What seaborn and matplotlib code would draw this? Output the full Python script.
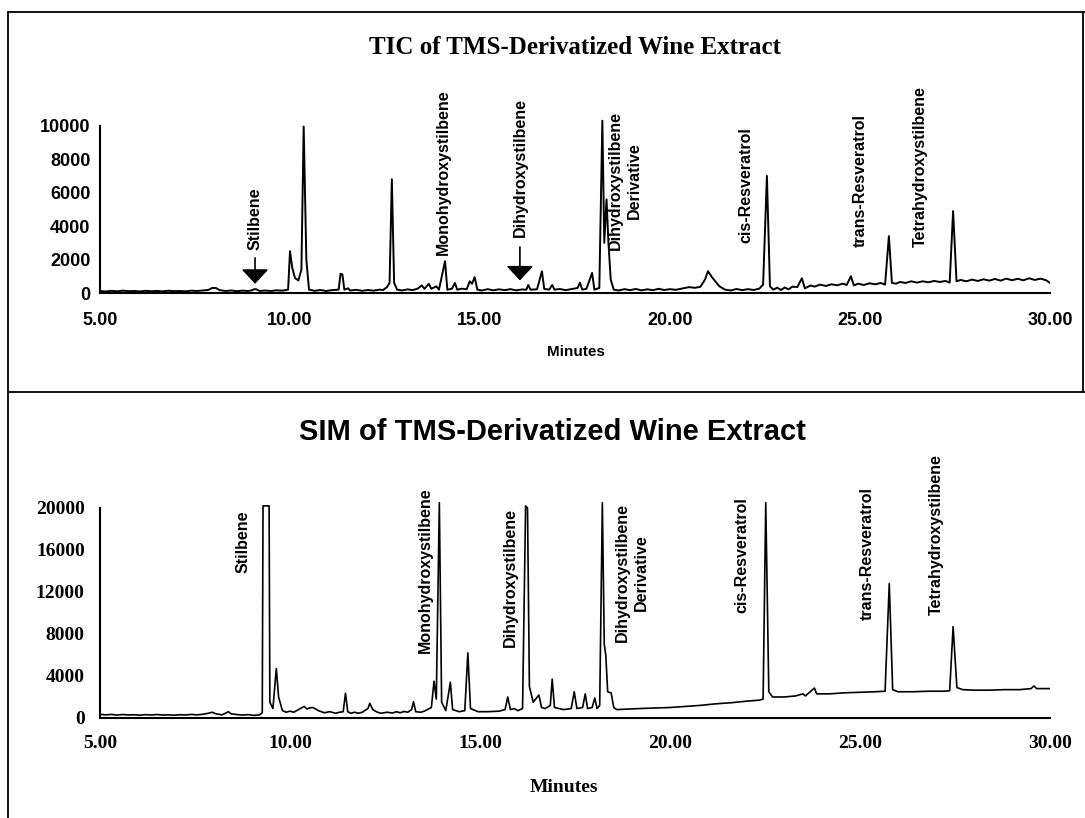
import matplotlib

matplotlib.use("Agg")
import matplotlib.pyplot as plt
import pandas as pd
import seaborn as sns
from matplotlib.lines import Line2D
from matplotlib.ticker import FormatStrFormatter, MultipleLocator

# --- TIC trace (minutes, counts) ---
TIC_MINUTES = [
    5.00, 5.15, 5.30, 5.45, 5.60, 5.75, 5.90, 6.05, 6.20, 6.35, 6.50, 6.65, 6.80, 6.95, 7.10, 7.25, 7.40, 7.55, 7.70,
    7.85, 7.95, 8.05, 8.15, 8.30, 8.45, 8.60, 8.75, 8.90, 9.00, 9.06, 9.12, 9.20, 9.35, 9.50, 9.65, 9.80, 9.95,
    10.00, 10.06, 10.13, 10.22, 10.30, 10.36, 10.43, 10.50,
    10.65, 10.80, 10.95, 11.10, 11.28, 11.33, 11.38, 11.43, 11.53, 11.58, 11.75, 11.90, 12.05, 12.20, 12.35, 12.45, 12.55, 12.62, 12.68, 12.74, 12.82,
    12.95, 13.10, 13.22, 13.35, 13.47, 13.54, 13.65, 13.72, 13.85, 13.92, 14.08, 14.14, 14.26, 14.34, 14.40, 14.52, 14.65, 14.73, 14.79, 14.86, 14.93,
    15.05, 15.20, 15.35, 15.50, 15.65, 15.80, 15.95, 16.10, 16.22, 16.27, 16.33, 16.50, 16.63, 16.69, 16.82, 16.90, 16.96, 17.10, 17.25, 17.40, 17.57, 17.63, 17.69, 17.80, 17.95, 18.01, 18.14,
    18.22, 18.27, 18.33, 18.38, 18.44, 18.52,
    18.65, 18.80, 18.95, 19.10, 19.25, 19.40, 19.55, 19.70, 19.85, 20.00, 20.15, 20.30, 20.50, 20.65, 20.80,
    20.92, 21.00, 21.12, 21.30, 21.45, 21.60, 21.75, 21.90, 22.05, 22.20, 22.35, 22.45, 22.55, 22.63, 22.72,
    22.82, 22.92, 23.02, 23.12, 23.22, 23.35, 23.47, 23.55, 23.70, 23.80, 23.95, 24.10, 24.25, 24.40, 24.55, 24.65, 24.76, 24.84, 24.95, 25.10, 25.25, 25.40, 25.55, 25.66, 25.76, 25.84, 25.95,
    26.05, 26.20, 26.35, 26.50, 26.65, 26.80, 26.95, 27.10, 27.25, 27.36, 27.45, 27.54, 27.65, 27.80, 27.95, 28.10, 28.25, 28.40, 28.55, 28.70, 28.85, 29.00, 29.15, 29.30, 29.45, 29.60, 29.75, 29.90, 30.00,
]
TIC_COUNTS = [
    120, 90, 130, 100, 140, 110, 120, 95, 130, 105, 125, 100, 135, 110, 120, 100, 140, 120, 150,
    180, 300, 300, 170, 120, 150, 110, 140, 120, 160, 230, 220, 120, 150, 120, 160, 140, 200,
    2500, 1500, 900, 750, 1400, 9950, 2000, 200,
    130, 180, 120, 170, 200, 1150, 1100, 200, 280, 150, 190, 130, 180, 140, 200, 180, 350, 600, 6800, 600, 200,
    150, 220, 170, 250, 450, 250, 550, 250, 400, 200, 1900, 200, 250, 600, 200, 260, 220, 700, 550, 950, 200,
    150, 230, 160, 220, 170, 230, 160, 210, 200, 480, 200, 220, 1300, 250, 200, 480, 200, 240, 170, 230, 300, 620, 200, 250, 1200, 200, 300,
    10300, 3000, 5600, 3000, 800, 200,
    150, 230, 170, 240, 160, 220, 170, 250, 180, 230, 190, 260, 350, 310, 370,
    800, 1300, 900, 400, 200, 150, 240, 170, 230, 180, 260, 500, 7000, 400, 200,
    320, 180, 330, 220, 380, 350, 880, 280, 450, 380, 500, 420, 520, 460, 560, 480, 1000, 450, 560, 480, 580, 520, 600, 500, 3400, 600, 560,
    660, 600, 700, 620, 700, 640, 720, 660, 720, 620, 4900, 700, 780, 700, 800, 720, 820, 740, 840, 740, 860, 760, 850, 760, 880, 780, 860, 760, 600,
]

# --- SIM trace (minutes, counts) ---
SIM_MINUTES = [
    5.00, 5.15, 5.30, 5.45, 5.60, 5.75, 5.90, 6.05, 6.20, 6.35, 6.50, 6.65, 6.80, 6.95, 7.10, 7.25, 7.40, 7.55, 7.70,
    7.85, 7.95, 8.05, 8.20, 8.30, 8.38, 8.45, 8.60, 8.75, 8.90, 9.05, 9.20,
    9.27, 9.29, 9.45, 9.47, 9.55, 9.64, 9.70, 9.80,
    9.90, 10.00, 10.10, 10.20, 10.37, 10.45, 10.50, 10.60, 10.75, 10.90, 11.05, 11.20, 11.30, 11.40, 11.46, 11.52, 11.60, 11.70,
    11.80, 11.90, 12.05, 12.10, 12.18, 12.30, 12.40, 12.55, 12.70, 12.80, 12.90, 13.00, 13.10, 13.20, 13.25, 13.31, 13.45, 13.55,
    13.72, 13.79, 13.85, 13.93, 13.99, 14.10, 14.22, 14.28, 14.45, 14.60, 14.68, 14.75,
    14.95, 15.20, 15.50, 15.66, 15.73, 15.80, 15.90, 16.00, 16.12, 16.20, 16.25, 16.30,
    16.40, 16.55, 16.62, 16.72, 16.85, 16.90, 16.96, 17.20, 17.40, 17.48, 17.55, 17.70,
    17.77, 17.83, 17.95, 18.02, 18.08, 18.15, 18.22, 18.27, 18.31, 18.36, 18.45, 18.52,
    18.60, 18.90, 19.20, 19.60, 20.00, 20.40, 20.80, 21.20, 21.60, 22.00, 22.35, 22.45,
    22.52, 22.60, 22.70, 23.00, 23.30, 23.50, 23.56, 23.80, 23.86, 24.20, 24.60, 25.00,
    25.40, 25.66, 25.77, 25.86, 26.00, 26.40, 26.80, 27.20, 27.36, 27.45, 27.55, 27.70,
    28.00, 28.40, 28.80, 29.20, 29.50, 29.58, 29.65, 30.00,
]
SIM_COUNTS = [
    350, 300, 340, 280, 330, 290, 310, 270, 320, 290, 330, 280, 300, 270, 310, 290, 340, 300, 350,
    450, 550, 400, 300, 450, 600, 400, 330, 280, 320, 250, 300,
    500, 20200, 20200, 1500, 900, 4700, 2000, 700,
    550, 650, 550, 750, 1100, 850, 950, 1000, 700, 500, 600, 450, 550, 600, 2350, 600, 450, 550,
    450, 550, 900, 1400, 800, 550, 450, 550, 480, 600, 500, 620, 550, 800, 1550, 600, 550, 680,
    1000, 3500, 1800, 20500, 1500, 700, 3400, 800, 600, 700, 6200, 900,
    600, 600, 650, 800, 2000, 800, 900, 700, 900, 20200, 20000, 3000,
    1500, 2200, 1000, 900, 1200, 3700, 1000, 800, 900, 2500, 900, 1000,
    2300, 900, 1000, 1900, 900, 1200, 20500, 7000, 6000, 2500, 2400, 1000,
    800, 850, 900, 950, 1000, 1100, 1200, 1350, 1450, 1600, 1700, 1800,
    20500, 2500, 2000, 2000, 2100, 2300, 2100, 2850, 2300, 2300, 2400, 2450,
    2500, 2550, 12800, 2700, 2500, 2500, 2550, 2550, 2600, 8700, 2900, 2700,
    2650, 2650, 2700, 2700, 2800, 3050, 2800, 2800,
]

# --- compound annotations ---
COMPOUNDS = [
    "Stilbene", "Monohydroxystilbene", "Dihydroxystilbene",
    "Dihydroxystilbene\nDerivative", "cis-Resveratrol", "trans-Resveratrol",
    "Tetrahydroxystilbene",
]
TIC_LABEL_X = [9.07, 14.03, 16.05, 18.82, 22.0, 25.0, 26.6]
TIC_LABEL_Y = [2570, 2280, 3350, 2570, 3000, 2750, 2750]
TIC_ARROW_X = [9.08, 16.05]
TIC_ARROW_FROM = [2100, 2750]
TIC_ARROW_TO = [550, 750]

SIM_LABEL_X = [8.76, 13.55, 15.79, 19.0, 21.9, 25.2, 27.0]
SIM_LABEL_Y = [13800, 6200, 6760, 7240, 10000, 9330, 9800]

W, H = 1085, 818


def box(left, top, right, bottom):
    return [left / W, 1 - bottom / H, (right - left) / W, (bottom - top) / H]


def fig_line(fig, xs, ys):
    fig.add_artist(Line2D([x / W for x in xs], [1 - y / H for y in ys],
                          transform=fig.transFigure, color="black", lw=1.3))


def style_axis(ax, ymax, ystep, yminor, tick_font, tick_size, major_len, xpad, ypad):
    sns.despine(ax=ax)
    ax.set_xlim(5, 30)
    ax.set_ylim(0, ymax * 1.1)
    ax.spines["left"].set_bounds(0, ymax)
    ax.spines["bottom"].set_bounds(5, 30)
    for side in ("left", "bottom"):
        ax.spines[side].set_linewidth(1.5)
        ax.spines[side].set_color("black")
    ax.xaxis.set_major_locator(MultipleLocator(5))
    ax.xaxis.set_minor_locator(MultipleLocator(1))
    ax.xaxis.set_major_formatter(FormatStrFormatter("%.2f"))
    ax.set_yticks(range(0, ymax + 1, ystep))
    ax.yaxis.set_minor_locator(MultipleLocator(yminor))
    ax.tick_params(axis="both", which="both", color="black", labelcolor="black")
    ax.tick_params(axis="both", which="major", width=1.5)
    ax.tick_params(axis="x", which="major", direction="inout", length=major_len, pad=xpad)
    ax.tick_params(axis="y", which="major", direction="inout", length=major_len, pad=ypad)
    ax.tick_params(axis="both", which="minor", direction="out", length=4, width=1.2)
    for lab in ax.get_xticklabels() + ax.get_yticklabels():
        lab.set_fontfamily(tick_font)
        lab.set_fontweight("bold")
        lab.set_fontsize(tick_size)
    ax.set_ylabel("")
    ax.grid(False)
    ax.set_facecolor("none")


def add_labels(ax, xs, ys):
    for text, x, y in zip(COMPOUNDS, xs, ys):
        ax.text(x, y, text, rotation=90, ha="center", va="bottom",
                multialignment="center", linespacing=1.35, fontsize=11.5,
                fontweight="bold", family="Liberation Sans", color="black",
                clip_on=False)


def main():
    sns.set_theme(style="white")
    plt.rcParams["font.family"] = ["Liberation Sans", "DejaVu Sans"]
    plt.rcParams.update({"text.color": "black", "axes.labelcolor": "black",
                         "xtick.color": "black", "ytick.color": "black"})

    tic = pd.DataFrame({"Minutes": TIC_MINUTES, "Counts": TIC_COUNTS})
    sim = pd.DataFrame({"Minutes": SIM_MINUTES, "Counts": SIM_COUNTS})

    fig = plt.figure(figsize=(W / 100, H / 100), dpi=100, facecolor="white")

    # upper panel: TIC
    ax1 = fig.add_axes(box(100, 109, 1050, 293))
    sns.lineplot(data=tic, x="Minutes", y="Counts", ax=ax1, color="black",
                 lw=1.4, estimator=None, sort=False)
    style_axis(ax1, 10000, 2000, 1000, "Liberation Sans", 13, 10, 9, 2)
    ax1.set_xlabel("Minutes", fontsize=11, fontweight="bold", family="Liberation Sans")
    ax1.xaxis.set_label_coords(0.501, -0.32)
    ax1.xaxis.label.set_va("center")
    add_labels(ax1, TIC_LABEL_X, TIC_LABEL_Y)
    for x, y0, y1 in zip(TIC_ARROW_X, TIC_ARROW_FROM, TIC_ARROW_TO):
        ax1.annotate("", xy=(x, y1), xytext=(x, y0),
                     arrowprops=dict(arrowstyle="-|>,head_length=0.45,head_width=0.42",
                                     color="black", lw=1.2, mutation_scale=20,
                                     shrinkA=0, shrinkB=0))

    # lower panel: SIM
    ax2 = fig.add_axes(box(100, 487, 1050, 718))
    sns.lineplot(data=sim, x="Minutes", y="Counts", ax=ax2, color="black",
                 lw=1.2, estimator=None, sort=False)
    style_axis(ax2, 20000, 4000, 2000, "Liberation Serif", 14, 12, 6, 5)
    ax2.set_xlabel("Minutes", fontsize=14, fontweight="bold", family="Liberation Serif")
    ax2.xaxis.set_label_coords(0.488, -0.30)
    ax2.xaxis.label.set_va("center")
    add_labels(ax2, SIM_LABEL_X, SIM_LABEL_Y)

    # titles
    fig.text(575 / W, 1 - 48 / H, "TIC of TMS-Derivatized Wine Extract",
             ha="center", va="center", fontsize=18, fontweight="bold",
             family="Liberation Serif", color="black")
    fig.text(552 / W, 1 - 432 / H, "SIM of TMS-Derivatized Wine Extract",
             ha="center", va="center", fontsize=21, fontweight="bold",
             family="Liberation Sans", color="black")

    # panel frame
    fig_line(fig, [8, 8], [12, 818])
    fig_line(fig, [8, 1085], [12, 12])
    fig_line(fig, [8, 1085], [392, 392])
    fig_line(fig, [1083, 1083], [12, 392])

    fig.savefig("out.png", dpi=100, facecolor="white")
    plt.close(fig)


if __name__ == "__main__":
    main()
